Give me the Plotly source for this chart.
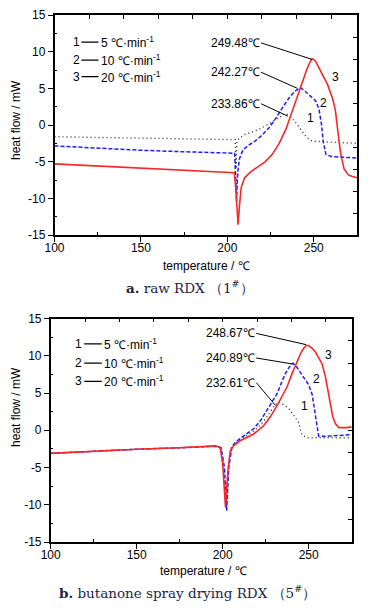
import plotly.graph_objects as go

# ---------------- data: (a) raw RDX ----------------
a1_T = [100, 125, 150, 175, 200, 204.5, 205.0, 205.5, 207, 210, 215, 220, 225, 230, 233.9, 237, 240, 243, 246, 249, 255, 265, 275]
a1_v = [-1.6, -1.7, -1.75, -1.85, -1.95, -2.0, -6.0, -2.2, -1.8, -1.3, -0.9, -0.4, 0.3, 1.0, 1.6, 1.0, 0.2, -0.8, -1.7, -2.2, -2.3, -2.4, -2.5]

a2_T = [100, 125, 150, 175, 200, 204.2, 204.7, 205.3, 206, 207, 209, 212, 216, 220, 224, 228, 232, 236, 239, 242.3, 245, 248, 251, 253, 254.5, 255.5, 257, 260, 265, 275]
a2_v = [-2.85, -3.2, -3.45, -3.65, -3.8, -3.85, -6.5, -10.4, -6.5, -4.6, -3.4, -2.8, -2.2, -1.4, -0.4, 0.9, 2.4, 3.8, 4.6, 5.1, 4.6, 3.9, 3.3, 2.2, 0.0, -2.3, -4.0, -4.3, -4.4, -4.5]

a3_T = [100, 125, 150, 175, 200, 204, 205, 206.2, 207, 208, 210, 213, 217, 222, 226, 230, 234, 238, 242, 246, 248.5, 249.5, 251, 254, 258, 261, 262.5, 264, 265.5, 267.5, 270, 272, 275]
a3_v = [-5.3, -5.6, -5.9, -6.2, -6.4, -6.5, -9.0, -13.6, -11.0, -8.5, -7.2, -6.5, -5.8, -5.0, -4.0, -2.5, -0.5, 2.2, 5.0, 7.6, 8.9, 9.0, 8.7, 7.4, 5.5, 3.5, 2.0, -1.0, -3.8, -6.0, -6.8, -7.0, -7.2]

# ---------------- data: (b) butanone spray drying RDX ----------------
b1_T = [100, 125, 150, 175, 195, 199, 200.5, 202, 203.5, 205, 206.5, 210, 214, 218, 222, 226, 230, 232.6, 235.5, 238.5, 241.3, 244.2, 246, 249, 255, 265, 275]
b1_v = [-3.1, -2.8, -2.55, -2.35, -2.15, -2.3, -4.5, -10.5, -4.5, -2.4, -1.9, -1.3, -0.7, -0.1, 0.7, 1.9, 3.3, 3.8, 3.4, 2.9, 2.0, 1.0, -0.6, -1.0, -1.0, -1.0, -1.0]

b2_T = [100, 125, 150, 175, 195, 199, 201, 202.3, 203.5, 205.4, 207.5, 210.2, 214, 218, 222, 225.7, 228.5, 231.6, 234, 236.4, 238.8, 240.9, 243, 245.2, 248, 250, 252, 253.9, 255.8, 260, 265, 275]
b2_v = [-3.1, -2.8, -2.55, -2.35, -2.15, -2.3, -5.0, -10.8, -5.0, -2.2, -1.6, -1.1, -0.5, 0.2, 1.3, 2.7, 3.8, 4.9, 6.3, 7.6, 8.5, 9.0, 8.5, 7.7, 6.8, 6.1, 4.8, 1.7, -0.8, -0.8, -0.75, -0.6]

b3_T = [100, 125, 150, 175, 190, 196, 198.6, 200, 201.6, 203, 204.4, 206.3, 210.2, 214, 218, 223.8, 227.7, 231.6, 234.5, 237.4, 240.3, 243.2, 245.5, 247.1, 248.7, 250, 252, 253.9, 255.8, 257.8, 259.7, 261, 262.6, 264, 265.5, 267.5, 272.3, 275]
b3_v = [-3.1, -2.8, -2.55, -2.35, -2.2, -2.1, -2.4, -4.5, -10.3, -5.5, -2.8, -2.1, -1.4, -1.0, -0.5, 0.6, 1.8, 3.3, 4.5, 5.8, 7.6, 9.3, 10.4, 11.0, 11.4, 11.35, 11.0, 10.5, 9.8, 8.9, 7.2, 5.5, 3.2, 1.8, 0.9, 0.35, 0.35, 0.45]

# peak labels: (text, peak T, peak v, label T, label v)
a_peaks = [("249.48℃", 249.0, 8.95, 219.5, 11.2),
           ("242.27℃", 240.5, 5.0, 219.5, 7.2),
           ("233.86℃", 235.0, 1.2, 219.5, 2.9)]
b_peaks = [("248.67℃", 248.4, 11.5, 219.5, 13.0),
           ("240.89℃", 240.5, 8.9, 219.5, 9.7),
           ("232.61℃", 230.8, 3.3, 219.5, 6.4)]

# curve numbers
a_nums = [("3", 262.6, 6.6), ("2", 255.8, 3.0), ("1", 248.0, 0.9)]
b_nums = [("3", 261.6, 10.1), ("2", 254.5, 6.9), ("1", 247.5, 3.3)]

rates = ["5 ℃·min<sup>-1</sup>", "10 ℃·min<sup>-1</sup>", "20 ℃·min<sup>-1</sup>"]
a_leg_v = [11.3, 8.85, 6.6]
b_leg_v = [11.6, 9.0, 6.55]

x_ticks = [100, 150, 200, 250]
y_ticks = [-15, -10, -5, 0, 5, 10, 15]
y_ticktext = ["-15", "-10", "-5", "0", "5", "10", "15"]

x_range = [100, 275]
y_range = [-15, 15]

RED = "rgb(245,40,40)"
BLUE = "rgb(30,30,245)"
BLACK = "rgb(45,45,45)"
FONT = "Liberation Sans, Arial, sans-serif"

# page has an 8px body margin: figure is 355x595 placed at (8, 8)
W, H, OFF = 355, 595, 8
def fx(px):
    return (px - OFF) / W
def fy(py):
    return 1 - (py - OFF) / H

fig = go.Figure()

def add_set(xa, ya, d1, d2, d3):
    fig.add_trace(go.Scatter(x=d1[0], y=d1[1], mode="lines", xaxis=xa, yaxis=ya,
                             line=dict(color=BLACK, width=1.4, dash="1px,3px"), showlegend=False))
    fig.add_trace(go.Scatter(x=d2[0], y=d2[1], mode="lines", xaxis=xa, yaxis=ya,
                             line=dict(color=BLUE, width=1.5, dash="4px,2px"), showlegend=False))
    fig.add_trace(go.Scatter(x=d3[0], y=d3[1], mode="lines", xaxis=xa, yaxis=ya,
                             line=dict(color=RED, width=1.6), showlegend=False))

add_set("x", "y", (a1_T, a1_v), (a2_T, a2_v), (a3_T, a3_v))
add_set("x2", "y2", (b1_T, b1_v), (b2_T, b2_v), (b3_T, b3_v))
# empty traces to activate the mirror (top/right) axes
fig.add_trace(go.Scatter(x=[], y=[], xaxis="x3", yaxis="y3", showlegend=False))
fig.add_trace(go.Scatter(x=[], y=[], xaxis="x4", yaxis="y4", showlegend=False))

dom_a_x = [fx(54.5), fx(357)]
dom_a_y = [fy(235), fy(15)]
dom_b_x = [fx(50.7), fx(351.7)]
dom_b_y = [fy(542), fy(318.5)]

def xax(dom, anchor):
    return dict(domain=dom, anchor=anchor, range=x_range, automargin=False, showgrid=False, zeroline=False,
                showline=True, linecolor="black", linewidth=1.5,
                ticks="outside", ticklen=5, tickwidth=1, tickcolor="black",
                tickvals=x_ticks, ticktext=[str(t) for t in x_ticks], ticklabelstandoff=-4,
                minor=dict(tickvals=[125, 175, 225], ticks="inside", ticklen=3, tickcolor="black"),
                tickfont=dict(family=FONT, size=12, color="black"))

def yax(dom, anchor):
    return dict(domain=dom, anchor=anchor, range=y_range, automargin=False, showgrid=False, zeroline=False,
                showline=True, linecolor="black", linewidth=1.5,
                ticks="outside", ticklen=5, tickwidth=1, tickcolor="black",
                tickvals=y_ticks, ticktext=y_ticktext,
                minor=dict(tickvals=[-12.5, -7.5, -2.5, 2.5, 7.5, 12.5], ticks="inside", ticklen=3, tickcolor="black"),
                tickfont=dict(family=FONT, size=12, color="black"))

def xtop(over, anchor):
    return dict(overlaying=over, anchor=anchor, side="top", range=x_range, automargin=False, showgrid=False,
                zeroline=False, showline=True, linecolor="black", linewidth=1.5,
                ticks="inside", ticklen=4, tickcolor="black", tick0=100, dtick=20,
                showticklabels=False)

def yright(over, anchor):
    return dict(overlaying=over, anchor=anchor, side="right", range=y_range, automargin=False, showgrid=False,
                zeroline=False, showline=True, linecolor="black", linewidth=1.5,
                ticks="inside", ticklen=4, tickcolor="black", tick0=0, dtick=3,
                showticklabels=False)

fig.update_layout(
    width=W, height=H, margin=dict(l=0, r=0, t=0, b=0, autoexpand=False),
    paper_bgcolor="white", plot_bgcolor="white", showlegend=False,
    xaxis=xax(dom_a_x, "y"), yaxis=yax(dom_a_y, "x"),
    xaxis2=xax(dom_b_x, "y2"), yaxis2=yax(dom_b_y, "x2"),
    xaxis3=xtop("x", "y3"), yaxis3=yright("y", "x3"),
    xaxis4=xtop("x2", "y4"), yaxis4=yright("y2", "x4"),
)

ann = []
shapes = []

def panel(xref, yref, peaks, nums, leg_v, leg_T):
    for txt, px, py, tx, ty in peaks:
        ann.append(dict(x=px, y=py, xref=xref, yref=yref, ax=tx, ay=ty, axref=xref, ayref=yref,
                        text=txt, showarrow=True, arrowhead=0, arrowwidth=1, arrowcolor="black",
                        xanchor="right", yanchor="middle", borderpad=0,
                        font=dict(family=FONT, size=12, color="black")))
    for txt, nx, ny in nums:
        ann.append(dict(x=nx, y=ny, xref=xref, yref=yref, text=txt, showarrow=False,
                        xanchor="center", yanchor="middle",
                        font=dict(family=FONT, size=12, color="black")))
    for i, (r, lv) in enumerate(zip(rates, leg_v)):
        ann.append(dict(x=leg_T[0], y=lv, xref=xref, yref=yref, text=str(i + 1), showarrow=False,
                        xanchor="center", yanchor="middle",
                        font=dict(family=FONT, size=12, color="black")))
        ann.append(dict(x=leg_T[3], y=lv, xref=xref, yref=yref, text=r, showarrow=False,
                        xanchor="left", yanchor="middle",
                        font=dict(family=FONT, size=12, color="black")))
        shapes.append(dict(type="line", xref=xref, yref=yref, x0=leg_T[1], x1=leg_T[2], y0=lv, y1=lv,
                           line=dict(color="black", width=1.2)))

panel("x", "y", a_peaks, a_nums, a_leg_v, [112.8, 115.6, 125.4, 125.8])
panel("x2", "y2", b_peaks, b_nums, b_leg_v, [116.0, 119.5, 129.7, 130.0])

# axis titles and captions
TF = dict(family=FONT, size=12, color="black")
C = dict(xref="paper", yref="paper", xanchor="center", yanchor="middle", showarrow=False)
ann += [
    dict(x=fx(16), y=fy(120), text="heat flow / mW", textangle=-90, font=TF, **C),
    dict(x=fx(206), y=fy(266), text="temperature / ℃", font=TF, **C),
    dict(x=fx(16), y=fy(407), text="heat flow / mW", textangle=-90, font=TF, **C),
    dict(x=fx(203), y=fy(571), text="temperature / ℃", font=TF, **C),
]
CF = dict(family="DejaVu Serif, serif", size=13.5, color="#1e1e46")
ann += [
    dict(x=fx(190), y=fy(287), text="<b>a.</b> raw RDX （1<sup>#</sup>）", font=CF, **C),
    dict(x=fx(187), y=fy(592), text="<b>b.</b> butanone spray drying RDX （5<sup>#</sup>）", font=CF, **C),
]

fig.update_layout(annotations=ann, shapes=shapes)
fig.write_html("out.html")
